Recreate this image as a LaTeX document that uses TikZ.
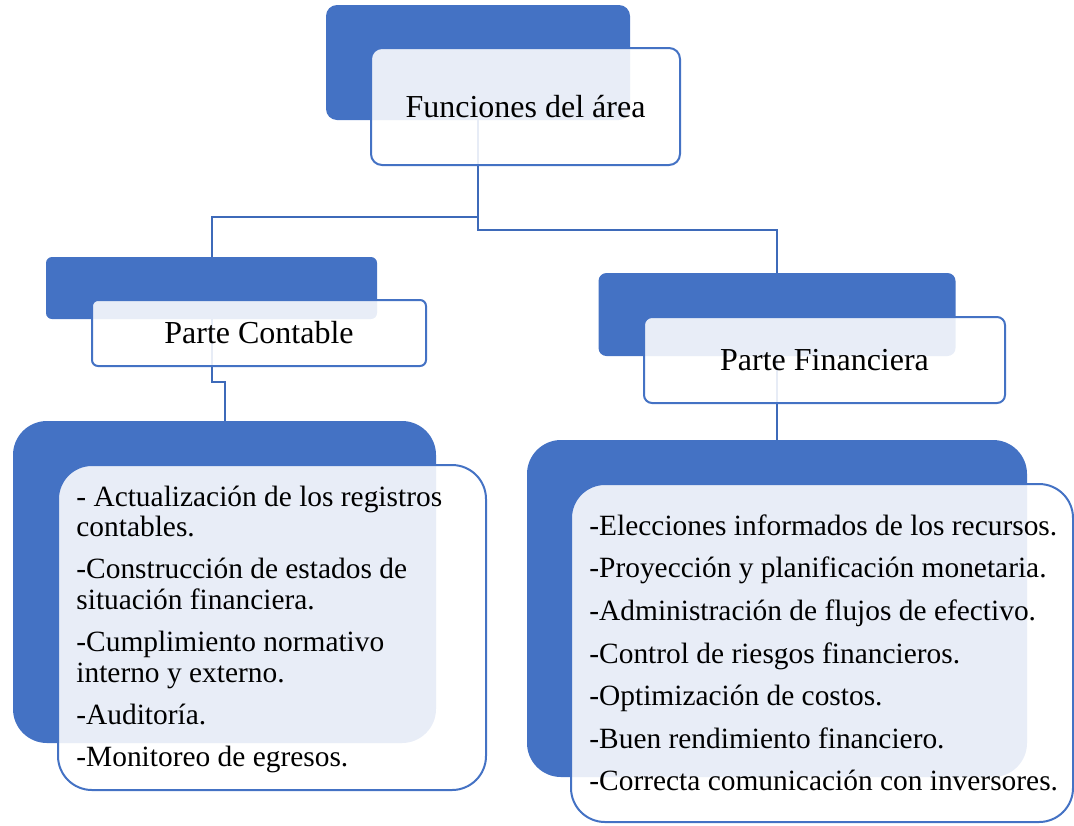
\documentclass[tikz,border=0pt]{standalone}
\usepackage{fontspec}
\setmainfont{Liberation Serif}
\usepackage{xcolor}

\definecolor{accentblue}{HTML}{4472C4}
\definecolor{linkblue}{HTML}{3E6AB9}

\tikzset{
  backbox/.style={fill=accentblue, draw=none, inner sep=0pt},
  frontbox/.style={fill=white, fill opacity=0.88, text opacity=1, draw=accentblue,
    line width=1pt, inner sep=0pt},
  link/.style={draw=linkblue, line width=1pt},
  titletext/.style={font=\fontsize{16}{19}\selectfont},
  itemtext/.style={font=\fontsize{14.7}{15.2}\selectfont, align=left, inner sep=0pt},
}

\begin{document}
\begin{tikzpicture}[x=0.5pt, y=-0.5pt]
        \useasboundingbox (0,0) rectangle (1074,825);
        % Back boxes
        \node[backbox, rounded corners=5.5pt, minimum width=152pt, minimum height=57.5pt] (topback) at (478,62.5) {};
        \node[backbox, rounded corners=3pt, minimum width=165.5pt, minimum height=31pt] (lmback) at (211.5,288) {};
        \node[backbox, rounded corners=4pt, minimum width=178.5pt, minimum height=41.5pt] (rmback) at (777,314.5) {};
        \node[backbox, rounded corners=17pt, minimum width=211.5pt, minimum height=161pt] (llback) at (224.5,582) {};
        \node[backbox, rounded corners=17pt, minimum width=250pt, minimum height=168.5pt] (rlback) at (777,608.5) {};
        % Connectors
        \draw[link] (topback.south) -- ++(0,97) -| (lmback.north);
        \draw[link] (topback.south) -- ++(0,110) -| (rmback.north);
        \draw[link] (lmback.south) -- ++(0,63) -| (llback.north);
        \draw[link] (rmback.south) -- (rlback.north);
        % Front boxes
        \node[frontbox, titletext, rounded corners=5.5pt, minimum width=154.5pt, minimum height=58.5pt] (topfront) at (525.5,106.5) {Funciones del área};
        \node[frontbox, titletext, rounded corners=3pt, minimum width=167pt, minimum height=33pt] (lmfront) at (259,333) {Parte Contable};
        \node[frontbox, titletext, rounded corners=4pt, minimum width=180.5pt, minimum height=43pt] (rmfront) at (824.5,360) {Parte Financiera};
        \node[frontbox, rounded corners=17pt, minimum width=214pt, minimum height=162.5pt] (llfront) at (272,627.5) {};
        \node[frontbox, rounded corners=17pt, minimum width=251pt, minimum height=169pt] (rlfront) at (822,653) {};
        % Lists
        \node[itemtext, anchor=west] (lltext) at ([xshift=9.5pt,yshift=-1pt]llfront.west) {%
          - Actualización de los registros\\contables.\\[6pt]
          -Construcción de estados de\\situación financiera.\\[6pt]
          -Cumplimiento normativo\\interno y externo.\\[6pt]
          -Auditoría.\\[6pt]
          -Monitoreo de egresos.};
        \node[itemtext, anchor=west] (rltext) at ([xshift=9.5pt]rlfront.west) {%
          -Elecciones informados de los recursos.\\[6.1pt]
          -Proyección y planificación monetaria.\\[6.1pt]
          -Administración de flujos de efectivo.\\[6.1pt]
          -Control de riesgos financieros.\\[6.1pt]
          -Optimización de costos.\\[6.1pt]
          -Buen rendimiento financiero.\\[6.1pt]
          -Correcta comunicación con inversores.};
    \end{tikzpicture}
\end{document}
